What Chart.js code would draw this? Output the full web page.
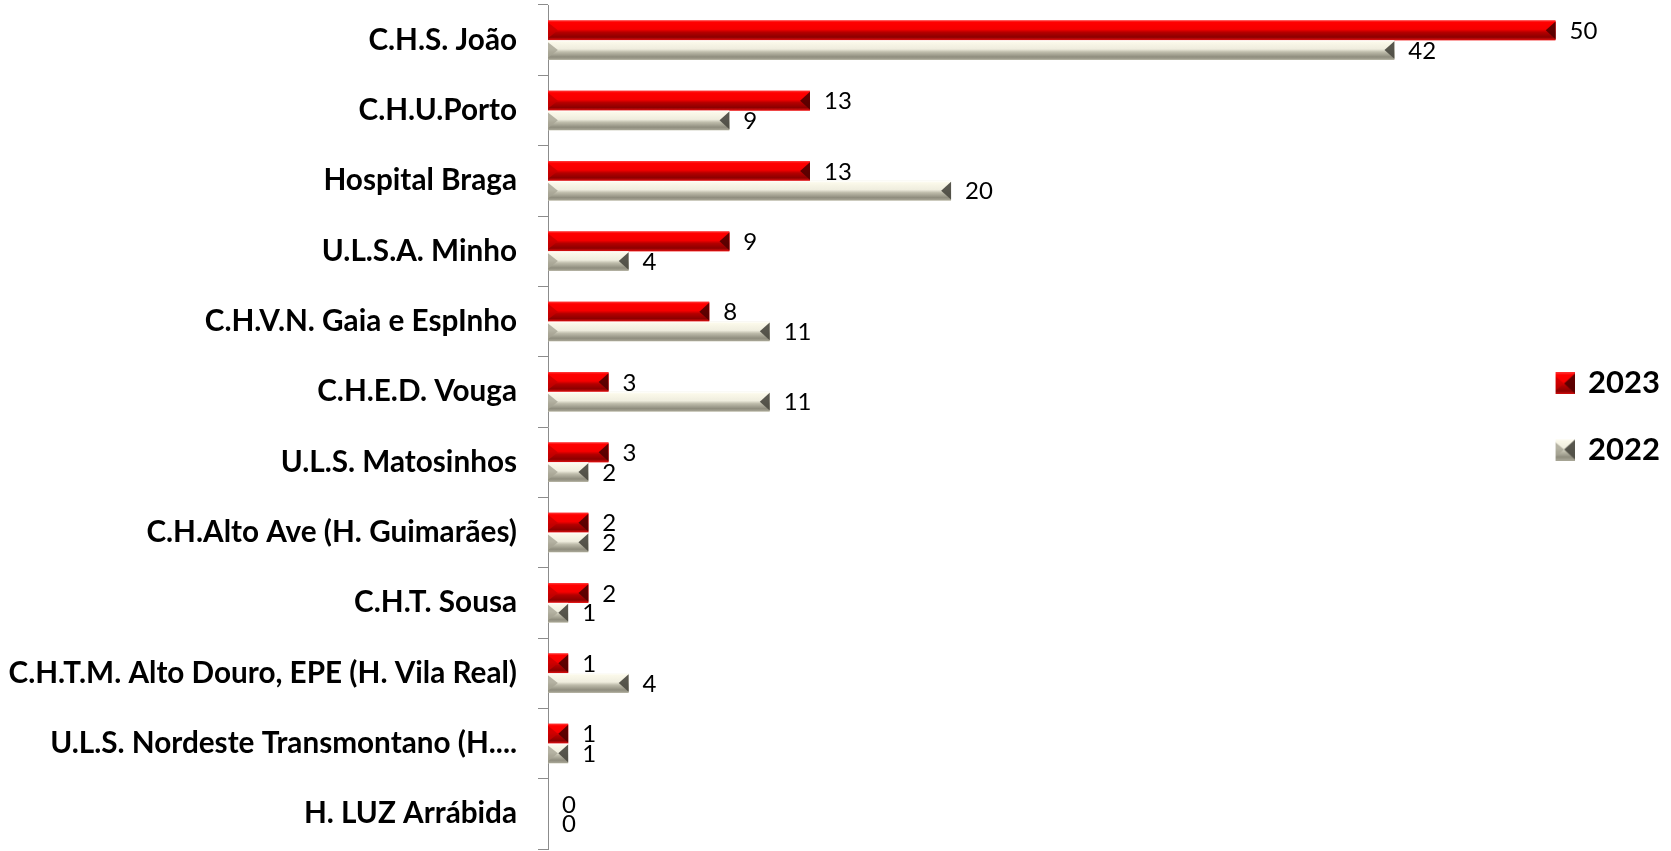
<!DOCTYPE html>
<html lang="pt">
<head>
  <meta charset="UTF-8" />
  <title>Hospitais 2023 / 2022</title>
  <script src="https://cdn.jsdelivr.net/npm/chart.js"></script>
  <style>
    body { margin: 0; background: #fff; }
    #wrap { width: 1671px; height: 851px; }
  </style>
</head>
<body>

<div id="wrap">
  <canvas id="hospChart"></canvas>
</div>

<script>
  const categories = [
    'C.H.S. João',
    'C.H.U.Porto',
    'Hospital Braga',
    'U.L.S.A. Minho',
    'C.H.V.N. Gaia e EspInho',
    'C.H.E.D. Vouga',
    'U.L.S. Matosinhos',
    'C.H.Alto Ave (H. Guimarães)',
    'C.H.T. Sousa',
    'C.H.T.M. Alto Douro, EPE (H. Vila Real)',
    'U.L.S. Nordeste Transmontano (H....',
    'H. LUZ Arrábida'
  ];
  const values2023 = [50, 13, 13, 9, 8, 3, 3, 2, 2, 1, 1, 0];
  const values2022 = [42, 9, 20, 4, 11, 11, 2, 2, 1, 4, 1, 0];
  const seriesLabels = ['2023', '2022'];

  // cores do efeito "bisel" (gradiente vertical + extremidades)
  const bevel = [
    { stops: ['#ff3838', '#ff0000', '#f60000', '#b40000', '#8c0000', '#e01010'], right: '#560000', left: '#c80000' },
    { stops: ['#ffffff', '#fbf9ea', '#efedde', '#bebcab', '#8f8d7e', '#aaa898'], right: '#4e4d44', left: '#a6a494' }
  ];

  function drawBevelBar(ctx, x0, x1, top, bottom, b) {
    const h = bottom - top;
    const w = x1 - x0;
    if (w <= 0) return;
    const g = ctx.createLinearGradient(0, top, 0, bottom);
    const pos = [0, 0.1, 0.45, 0.6, 0.85, 1];
    b.stops.forEach((c, i) => g.addColorStop(pos[i], c));
    ctx.fillStyle = g;
    ctx.fillRect(x0, top, w, h);
    const cap = Math.min(h / 2, w / 2);
    const mid = top + h / 2;
    // extremidade esquerda
    ctx.fillStyle = b.left;
    ctx.globalAlpha = 0.8;
    ctx.beginPath();
    ctx.moveTo(x0, top + 2); ctx.lineTo(x0 + cap, mid); ctx.lineTo(x0, bottom - 2);
    ctx.closePath(); ctx.fill();
    // extremidade direita
    ctx.globalAlpha = 0.95;
    ctx.fillStyle = b.right;
    ctx.beginPath();
    ctx.moveTo(x1, top + 1); ctx.lineTo(x1 - cap, mid); ctx.lineTo(x1, bottom - 1);
    ctx.closePath(); ctx.fill();
    ctx.globalAlpha = 1;
  }

  function makeMarker(b) {
    const c = document.createElement('canvas');
    c.width = 22; c.height = 22;
    drawBevelBar(c.getContext('2d'), 0, 22, 0, 22, b);
    return c;
  }
  const markers = bevel.map(makeMarker);

  const bevelPlugin = {
    id: 'bevelBars',
    afterDatasetsDraw(chart) {
      const ctx = chart.ctx;
      ctx.save();
      chart.data.datasets.forEach((ds, i) => {
        const meta = chart.getDatasetMeta(i);
        meta.data.forEach((el, j) => {
          const top = el.y - el.height / 2;
          const bottom = el.y + el.height / 2;
          drawBevelBar(ctx, el.base, el.x, top, bottom, bevel[i]);
          // rótulo de valor
          ctx.fillStyle = '#000';
          ctx.font = '24px Lato';
          ctx.textAlign = 'left';
          ctx.textBaseline = 'middle';
          ctx.fillText(String(ds.data[j]), el.x + 14, el.y + 1);
        });
      });
      ctx.restore();
    }
  };

  const ctx = document.getElementById('hospChart').getContext('2d');

  new Chart(ctx, {
    type: 'bar',
    data: {
      labels: categories,
      datasets: [
        { label: seriesLabels[0], data: values2023, backgroundColor: '#ff0000', categoryPercentage: 0.56, barPercentage: 1 },
        { label: seriesLabels[1], data: values2022, backgroundColor: '#e8e6d4', categoryPercentage: 0.56, barPercentage: 1 }
      ]
    },
    plugins: [bevelPlugin],
    options: {
      indexAxis: 'y',
      responsive: true,
      maintainAspectRatio: false,
      animation: false,
      layout: { padding: { top: 5, bottom: 2, left: 0, right: 1 } },
      scales: {
        x: { display: false, min: 0, max: 50 },
        y: {
          afterFit: (scale) => {
            scale.width = 548;
            scale.paddingTop = 0;
            scale.paddingBottom = 0;
          },
          grid: { offset: true, drawOnChartArea: false, drawTicks: true, tickLength: 10, color: '#8c8c8c' },
          border: { display: true, color: '#8c8c8c', width: 1 },
          ticks: {
            padding: 21,
            color: '#000',
            autoSkip: false,
            font: { family: 'Lato', size: 29.7, weight: 'bold' }
          }
        }
      },
      plugins: {
        tooltip: { enabled: false },
        legend: {
          position: 'right',
          title: { display: true, text: ' ', font: { size: 14, lineHeight: 1 }, padding: 0 },
          labels: {
            usePointStyle: true,
            pointStyleWidth: 17,
            padding: 0,
            color: '#000',
            font: { family: 'Lato', size: 31, weight: 'bold', lineHeight: 2.13 },
            generateLabels: (chart) => chart.data.datasets.map((ds, i) => ({
              text: [ds.label],
              fillStyle: ds.backgroundColor,
              strokeStyle: ds.backgroundColor,
              fontColor: '#000',
              lineWidth: 0,
              pointStyle: markers[i],
              hidden: !chart.isDatasetVisible(i),
              datasetIndex: i
            }))
          }
        }
      }
    }
  });
</script>

</body>
</html>
